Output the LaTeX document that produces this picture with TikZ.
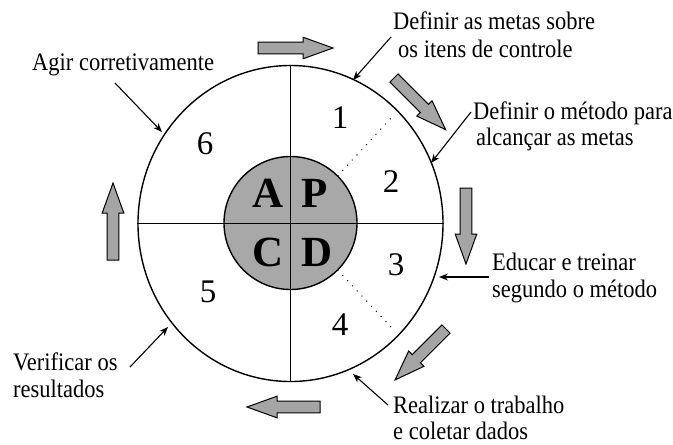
\documentclass[tikz,border=0pt]{standalone}
\usepackage{fontspec}
\usepackage{graphicx}
\setmainfont{Liberation Serif}
\usetikzlibrary{arrows.meta,shapes.geometric}
\definecolor{innergray}{RGB}{168,168,168}
\definecolor{arrgray}{RGB}{165,165,165}
\newcommand{\talltext}[1]{\scalebox{1}[1.12]{#1}}
\begin{document}
\begin{tikzpicture}[x=1pt,y=-1pt,
 lab/.style={font=\fontsize{22.5}{27}\selectfont, inner sep=0, anchor=base west},
 num/.style={font=\fontsize{33}{33}\selectfont, inner sep=0},
 big/.style={font=\fontsize{43}{43}\selectfont\bfseries, inner sep=0},
 ptr/.style={-{Stealth[length=9pt,width=7pt]}, line width=1.1pt},
 dots/.style={line width=1.4pt, dash pattern=on 0pt off 7pt, line cap=round},
 thick line/.style={line width=1.4pt},
 pics/blockarr/.style={code={\draw[line width=1pt, fill=arrgray, line join=miter]
   (0,-5.8) -- (#1-30,-5.8) -- (#1-30,-10.8) -- (#1,0) -- (#1-30,10.8) -- (#1-30,5.8) -- (0,5.8) -- cycle;}}]
\useasboundingbox (0,0) rectangle (673,445);
\fill[white] (0,0) rectangle (673,445);

% circles
\node[draw, ellipse, thick line, minimum width=305pt, minimum height=316pt, inner sep=0] (outer) at (290.5,223.5) {};
\node[draw, circle, thick line, fill=innergray, minimum size=133pt, inner sep=0] (inner) at (290.5,223) {};
\draw[thick line] (outer.north) -- (outer.south);
\draw[thick line] (outer.west) -- (outer.east);

% dotted radial lines
\coordinate (d1) at (391,118);
\coordinate (d2) at (391,327);
\draw[dots] (inner.north east) -- (d1);
\draw[dots] (inner.south east) -- (d2);

% PDCA letters
\node[big] (A) at (268,193) {A};
\node[big] (P) at (315,193) {P};
\node[big] (C) at (268,252) {C};
\node[big] (D) at (317,252) {D};

% step numbers
\node[num] (n1) at (340,118) {1};
\node[num] (n2) at (391,182) {2};
\node[num] (n3) at (396,265) {3};
\node[num] (n4) at (340,325) {4};
\node[num] (n5) at (208,292) {5};
\node[num] (n6) at (205,144) {6};

% labels
\node[lab] (l6) at (32,70) {\talltext{Agir corretivamente}};
\node[lab] (l1a) at (393,29) {\talltext{Definir as metas sobre}};
\node[lab] (l1b) at (398,57) {\talltext{os itens de controle}};
\node[lab] (l2a) at (473,119) {\talltext{Definir o método para}};
\node[lab] (l2b) at (476,145) {\talltext{alcançar as metas}};
\node[lab] (l3a) at (492,270) {\talltext{Educar e treinar}};
\node[lab] (l3b) at (492,297) {\talltext{segundo o método}};
\node[lab] (l4a) at (393,413) {\talltext{Realizar o trabalho}};
\node[lab] (l4b) at (393,439) {\talltext{e coletar dados}};
\node[lab] (l5a) at (13,370) {\talltext{Verificar os}};
\node[lab] (l5b) at (13,397) {\talltext{resultados}};

% pointer arrows
\coordinate (s6) at (115,83);   \coordinate (t6) at (162,132);
\coordinate (s1) at (391,37);   \coordinate (t1) at (353,80);
\coordinate (s2) at (471,112);  \coordinate (t2) at (431,163);
\coordinate (s3) at (489,277);  \coordinate (t3) at (439,277);
\coordinate (s4) at (388,405);  \coordinate (t4) at (353,374);
\coordinate (s5) at (130,367);  \coordinate (t5) at (168,327);
\foreach \i in {1,...,6} {\draw[ptr] (s\i) -- (t\i);}

% block arrows
\pic at (258,48) {blockarr=75};
\pic[rotate=-45] at (394,78) {blockarr=73};
\pic[rotate=-90] at (466,188) {blockarr=76};
\pic[rotate=-135] at (446,329) {blockarr=72};
\pic[rotate=180] at (320,407) {blockarr=73};
\pic[rotate=90] at (113,260) {blockarr=77};
\end{tikzpicture}
\end{document}
